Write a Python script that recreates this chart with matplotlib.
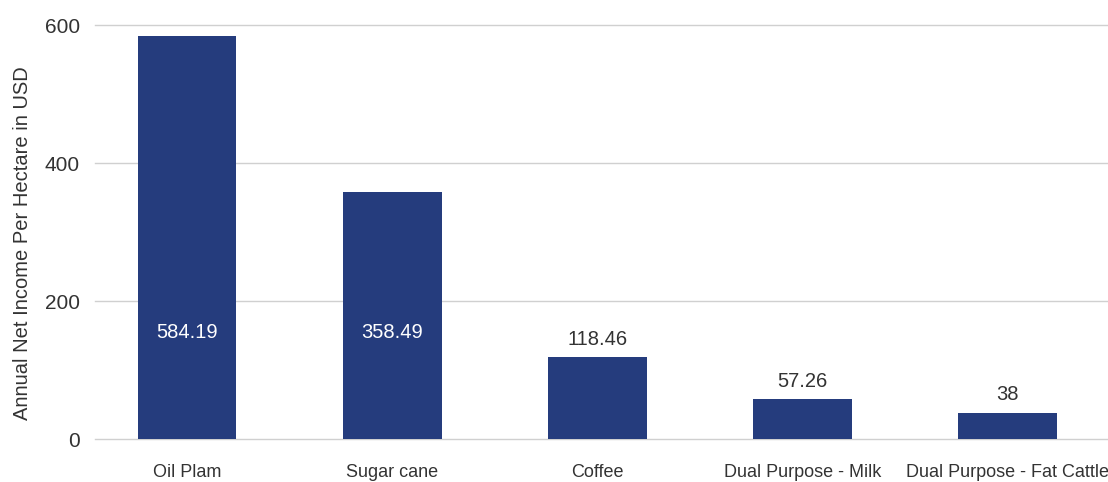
import numpy as np
import matplotlib.pyplot as plt

# Data
crops = ['Oil Plam', 'Sugar cane', 'Coffee', 'Dual Purpose - Milk', 'Dual Purpose - Fat Cattle']
net_income = [584.19, 358.49, 118.46, 57.26, 38]
value_labels = ['584.19', '358.49', '118.46', '57.26', '38']

bar_color = '#253C7D'
text_color = '#333333'

plt.rcParams['font.family'] = ['Liberation Sans', 'DejaVu Sans']

fig = plt.figure(figsize=(11.08, 4.82), dpi=100)
ax = fig.add_axes([0.0857, 0.0892, 0.9143, 0.8589])

x = np.arange(len(crops))
bars = ax.bar(x, net_income, width=0.48, color=bar_color, zorder=3)

# labels: big bars get a white label inside, small ones a dark label on top
for bar, val, lab in zip(bars, net_income, value_labels):
    cx = bar.get_x() + bar.get_width() / 2
    if val > 300:
        ax.text(cx, 154, lab, ha='center', va='center', color='white', fontsize=14.5)
    else:
        ax.annotate(lab, (cx, val), xytext=(0, 6), textcoords='offset points',
                    ha='center', va='bottom', color=text_color, fontsize=14.5)

ax.set_ylim(0, 600)
ax.set_xlim(-0.45, 4.49)
ax.set_yticks([0, 200, 400, 600])
ax.set_xticks(x)
ax.set_xticklabels(crops)
ax.grid(axis='y', color='#d0d0d0', linewidth=1, zorder=0)
for gl in ax.get_ygridlines():
    gl.set_clip_on(False)
ax.tick_params(axis='both', length=0, colors=text_color)
ax.tick_params(axis='y', pad=11, labelsize=15)
ax.tick_params(axis='x', pad=18, labelsize=13)
for s in ax.spines.values():
    s.set_visible(False)

ax.set_ylabel('Annual Net Income Per Hectare in USD', fontsize=14.5, color=text_color)
ax.yaxis.set_label_coords(-0.062, 0.473)

fig.savefig('out.png', dpi=100)
